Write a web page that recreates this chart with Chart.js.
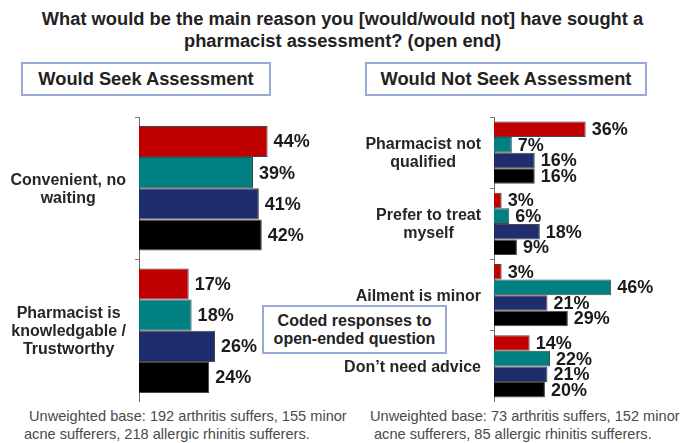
<!DOCTYPE html>
<html>
<head>
<meta charset="utf-8">
<script src="https://cdn.jsdelivr.net/npm/chart.js@4/dist/chart.umd.min.js"></script>
<style>
  html, body { margin: 0; padding: 0; background: #fff; }
  #page { position: relative; width: 685px; height: 443px; overflow: hidden; font-family: "Liberation Sans", Arial, sans-serif; color: #222; }
  .title { position: absolute; left: 0; top: 8px; width: 685px; text-align: center; font-weight: bold; font-size: 18.3px; line-height: 22px; }
  .box { position: absolute; border: 2px solid #9aa8d8; background: #fff; box-sizing: border-box; display: flex; align-items: center; justify-content: center; text-align: center; font-weight: bold; }
  .side { font-size: 18.3px; height: 34px; }
  #coded { left: 262px; top: 305px; width: 185px; height: 49px; font-size: 16px; line-height: 18px; z-index: 2; }
  .chartwrap { position: absolute; top: 117px; }
  .note { position: absolute; font-size: 14.6px; color: #4a4a4a; white-space: nowrap; line-height: 18px; }
</style>
</head>
<body>
<div id="page">
  <div class="title">What would be the main reason you [would/would not] have sought a<br>pharmacist assessment? (open end)</div>
  <div class="box side" style="left:21px; top:62px; width:250px;">Would Seek Assessment</div>
  <div class="box side" style="left:365px; top:62px; width:282px;">Would Not Seek Assessment</div>

  <div class="chartwrap" style="left:0;"><canvas id="seekChart" width="329" height="285"></canvas></div>
  <div class="chartwrap" style="left:340px;"><canvas id="notSeekChart" width="345" height="285"></canvas></div>

  <div class="box" id="coded">Coded responses to<br>open-ended question</div>

  <div class="note" style="left:29px; top:407px;">Unweighted base: 192 arthritis suffers, 155 minor</div>
  <div class="note" style="left:24px; top:425px;">acne sufferers, 218 allergic rhinitis sufferers.</div>
  <div class="note" style="left:370px; top:407px;">Unweighted base: 73 arthritis suffers, 152 minor</div>
  <div class="note" style="left:374px; top:425px;">acne sufferers, 85 allergic rhinitis sufferers.</div>
</div>

<script>
(function () {
  "use strict";

  // Would seek assessment
  const seekReasons = [['Convenient, no', 'waiting'], ['Pharmacist is', 'knowledgable /', 'Trustworthy']];
  const seekArthritis = [44, 17];
  const seekAcne      = [39, 18];
  const seekRhinitis  = [41, 26];
  const seekTotal     = [42, 24];

  // Would not seek assessment
  const notSeekReasons = [['Pharmacist not', 'qualified'], ['Prefer to treat', 'myself'], ['Ailment is minor'], ['Don\u2019t need advice']];
  const notSeekArthritis = [36, 3, 3, 14];
  const notSeekAcne      = [7, 6, 46, 22];
  const notSeekRhinitis  = [16, 18, 21, 21];
  const notSeekTotal     = [16, 9, 29, 20];

  const seriesNames  = ['Arthritis', 'Minor acne', 'Allergic rhinitis', 'Total'];
  const seriesColors = ['#c00000', '#008080', '#1f2d6e', '#000000'];

  const labelFont = '700 18px "Liberation Sans", Arial, sans-serif';
  const catFont   = '700 16px "Liberation Sans", Arial, sans-serif';

  // percent labels just past the end of each bar
  const valueLabels = {
    id: 'valueLabels',
    afterDatasetsDraw(chart) {
      const ctx = chart.ctx;
      ctx.save();
      ctx.font = labelFont;
      ctx.fillStyle = '#1b1b1b';
      ctx.textAlign = 'left';
      ctx.textBaseline = 'middle';
      chart.data.datasets.forEach(function (ds, di) {
        chart.getDatasetMeta(di).data.forEach(function (bar, i) {
          ctx.fillText(ds.data[i] + '%', bar.x + 6, bar.y + 1);
        });
      });
      ctx.restore();
    }
  };

  // category names: each block sits right of the axis gap, lines centred within it
  const categoryLabels = {
    id: 'categoryLabels',
    afterDraw(chart) {
      const ctx = chart.ctx;
      const scale = chart.scales.y;
      const lh = 18;
      ctx.save();
      ctx.font = catFont;
      ctx.fillStyle = '#262626';
      ctx.textAlign = 'center';
      ctx.textBaseline = 'middle';
      chart.data.labels.forEach(function (lines, i) {
        const y = scale.getPixelForTick(i);
        const w = Math.max.apply(null, lines.map(function (l) { return ctx.measureText(l).width; }));
        const cx = scale.right - 13 - w / 2;
        lines.forEach(function (l, k) {
          ctx.fillText(l, cx, y + (k - (lines.length - 1) / 2) * lh + 1);
        });
      });
      ctx.restore();
    }
  };

  function makeChart(id, labels, series, xMax, axisWidth) {
    const ctx = document.getElementById(id).getContext('2d');
    return new Chart(ctx, {
      type: 'bar',
      data: {
        labels: labels,
        datasets: series.map(function (values, i) {
          return {
            label: seriesNames[i],
            data: values,
            backgroundColor: seriesColors[i],
            borderColor: 'rgba(40,40,40,0.85)',
            borderWidth: 1,
            categoryPercentage: 0.875,
            barPercentage: 1.0
          };
        })
      },
      options: {
        indexAxis: 'y',
        responsive: false,
        animation: false,
        layout: { padding: 0 },
        scales: {
          x: { display: false, min: 0, max: xMax },
          y: {
            ticks: { display: false },
            grid: { drawOnChartArea: false, drawTicks: true, tickLength: 4, color: '#7a7a7a', offset: true },
            border: { display: true, color: '#6a6a6a', width: 1 },
            afterFit: function (scale) { scale.width = axisWidth; }
          }
        },
        plugins: {
          legend: { display: false },
          tooltip: { enabled: false }
        }
      },
      plugins: [valueLabels, categoryLabels]
    });
  }

  makeChart('seekChart', seekReasons, [seekArthritis, seekAcne, seekRhinitis, seekTotal], 65, 139);
  makeChart('notSeekChart', notSeekReasons, [notSeekArthritis, notSeekAcne, notSeekRhinitis, notSeekTotal], 75, 154);
})();
</script>
</body>
</html>
